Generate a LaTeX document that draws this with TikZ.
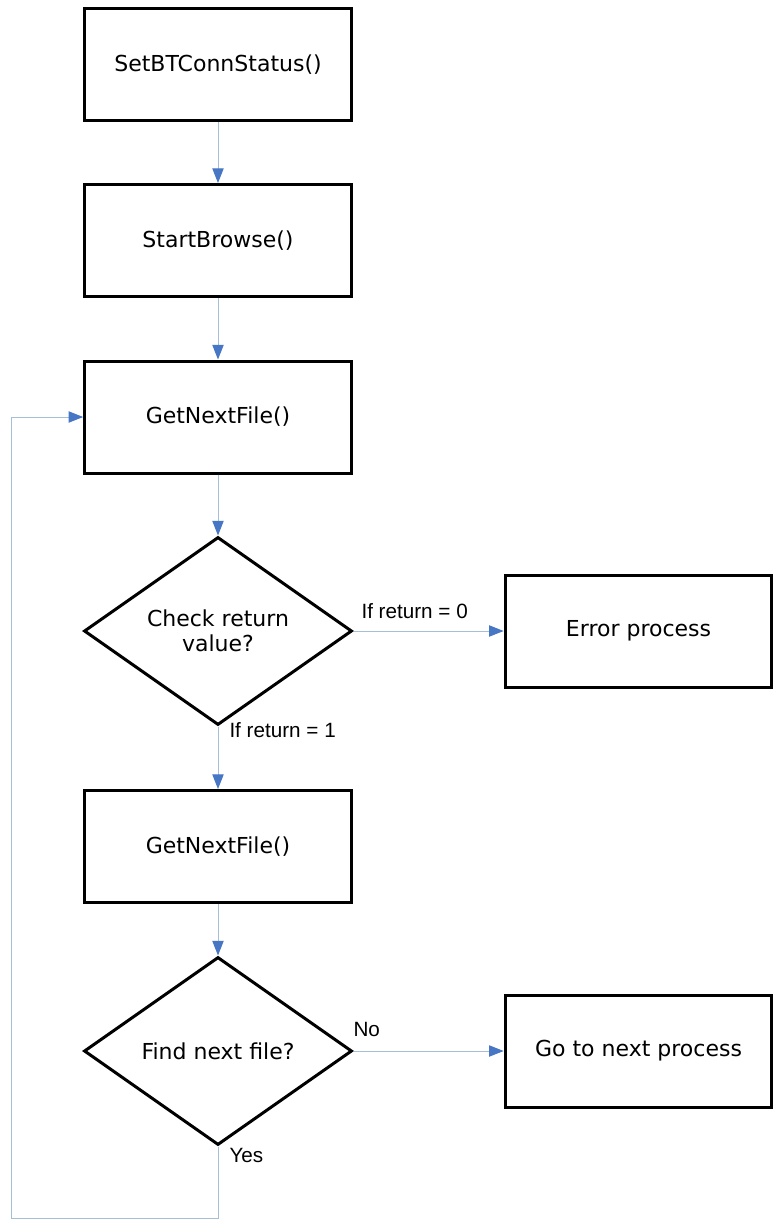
\documentclass[tikz,border=0pt]{standalone}
\usepackage{fontspec}
\setmainfont{DejaVu Sans}
\newfontfamily\labelfont{Liberation Sans}
\usetikzlibrary{shapes.geometric,arrows.meta}

\definecolor{flowline}{RGB}{166,190,214}
\definecolor{flowtip}{RGB}{70,118,196}

\tikzset{every picture/.style={line width=0.75pt}}
\tikzset{
  procbox/.style={draw=black,line width=2.25pt,minimum width=200pt,minimum height=84pt,inner sep=0pt,font=\fontsize{16.5}{19}\selectfont},
  decision/.style={diamond,draw=black,line width=2.25pt,minimum width=201pt,minimum height=141pt,shape aspect=1.43,inner sep=0pt,align=center,font=\fontsize{16.5}{19}\selectfont},
  flow/.style={draw=flowline,line width=0.75pt,-{Triangle[length=11pt,width=8.5pt,color=flowtip]}},
  flowplain/.style={draw=flowline,line width=0.75pt},
  edgelabel/.style={inner sep=0.75pt,font=\labelfont\fontsize{15.5}{18}\selectfont}
}

\begin{document}
\begin{tikzpicture}[x=0.75pt,y=0.75pt,yscale=-1,xscale=1]
\useasboundingbox (0,0) rectangle (773,1220);

%Shape: Rectangle [id:setbt]
\node [procbox] (setbt) at (218,64.5) {SetBTConnStatus()};
%Shape: Rectangle [id:browse]
\node [procbox] (browse) at (218,240.5) {StartBrowse()};
%Shape: Rectangle [id:nextfile]
\node [procbox] (nextfile) at (218,417) {GetNextFile()};
%Shape: Diamond [id:chkret]
\node [decision] (chkret) at (218,631) {Check return\\value?};
%Shape: Rectangle [id:errproc]
\node [procbox] (errproc) at (638.5,631) {Error process};
%Shape: Rectangle [id:nextfile2]
\node [procbox] (nextfile2) at (218,846.5) {GetNextFile()};
%Shape: Diamond [id:findnext]
\node [decision] (findnext) at (218,1051) {Find next file?};
%Shape: Rectangle [id:nextproc]
\node [procbox] (nextproc) at (638.5,1051) {Go to next process};

%Straight Lines
\draw [flow] (setbt) -- (browse);
\draw [flow] (browse) -- (nextfile);
\draw [flow] (nextfile) -- (chkret);
\draw [flow] (chkret) -- (errproc);
\draw [flow] (chkret) -- (nextfile2);
\draw [flow] (nextfile2) -- (findnext);
\draw [flow] (findnext) -- (nextproc);

%Shape: Polyline (loop back)
\coordinate (loopbot) at (218,1218);
\coordinate (loopleft) at (11,1218);
\draw [flow] (findnext.south) -- (loopbot) -- (loopleft) |- (nextfile);

% Text Node
\node [edgelabel,anchor=north west] (retzero) at (360,602) {If return = 0};
% Text Node
\node [edgelabel,anchor=north west] (retone) at (228,721) {If return = 1};
% Text Node
\node [edgelabel,anchor=north west] (lblno) at (352,1021) {No};
% Text Node
\node [edgelabel,anchor=north west] (lblyes) at (228,1147) {Yes};
\end{tikzpicture}
\end{document}
